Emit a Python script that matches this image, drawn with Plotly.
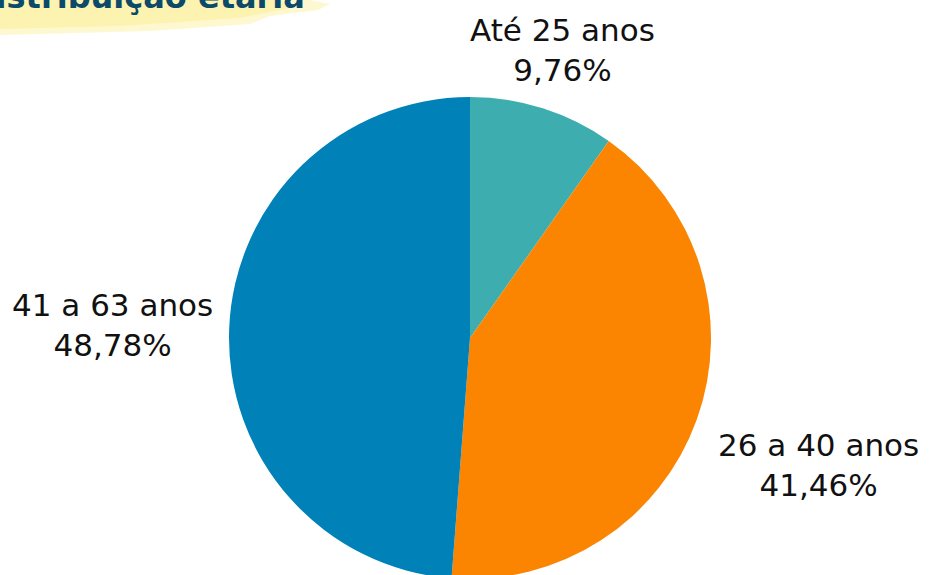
import plotly.graph_objects as go

categories = ["Até 25 anos", "26 a 40 anos", "41 a 63 anos"]
percent_labels = ["9,76%", "41,46%", "48,78%"]
values = [9.76, 41.46, 48.78]
colors = ["#3dadb0", "#fb8500", "#0081b8"]
title_text = "Distribuição etária"

W, H = 930, 580

def px(x):
    return x / W

def py(y):
    return 1 - y / H

fig = go.Figure()
fig.add_trace(go.Pie(
    labels=categories,
    values=values,
    sort=False,
    direction="clockwise",
    rotation=0,
    marker=dict(colors=colors, line=dict(width=0)),
    textinfo="none",
    hoverinfo="label+percent",
    showlegend=False,
    domain=dict(x=[px(229), px(711)], y=[py(579), py(97)]),
))

label_pos = {"Até 25 anos": (562, 50), "26 a 40 anos": (818, 465), "41 a 63 anos": (112, 325)}
annotations = []
for cat, pct in zip(categories, percent_labels):
    x, y = label_pos[cat]
    annotations.append(dict(
        x=px(x), y=py(y), xref="paper", yref="paper",
        text=f"{cat}<br>{pct}", showarrow=False,
        font=dict(family="DejaVu Sans", size=31, color="#111111"),
        xanchor="center", yanchor="middle", align="center",
    ))

annotations.append(dict(
    x=px(307), y=py(18), xref="paper", yref="paper",
    text=f"<b>{title_text}</b>", showarrow=False,
    font=dict(family="DejaVu Sans", size=32, color="#0b4a6a"),
    xanchor="right", yanchor="bottom",
))

shapes = [
    dict(type="path", xref="paper", yref="paper", layer="below",
         path=f"M {px(0)} {py(0)} L {px(310)} {py(0)} L {px(330)} {py(4)} L {px(318)} {py(10)} "
              f"L {px(270)} {py(16)} L {px(250)} {py(24)} L {px(150)} {py(31)} L {px(0)} {py(35)} Z",
         fillcolor="rgba(250,234,120,0.35)", line=dict(width=0)),
    dict(type="path", xref="paper", yref="paper", layer="below",
         path=f"M {px(0)} {py(0)} L {px(280)} {py(0)} L {px(290)} {py(8)} L {px(240)} {py(18)} "
              f"L {px(120)} {py(26)} L {px(0)} {py(29)} Z",
         fillcolor="rgba(250,234,120,0.35)", line=dict(width=0)),
]

fig.update_layout(
    width=W, height=H,
    margin=dict(l=0, r=0, t=0, b=0),
    paper_bgcolor="white",
    plot_bgcolor="white",
    annotations=annotations,
    shapes=shapes,
)

fig.write_html(
    "out.html",
    config={"displayModeBar": False},
    post_script="document.body.style.margin='0px';document.body.style.overflow='hidden';",
)
